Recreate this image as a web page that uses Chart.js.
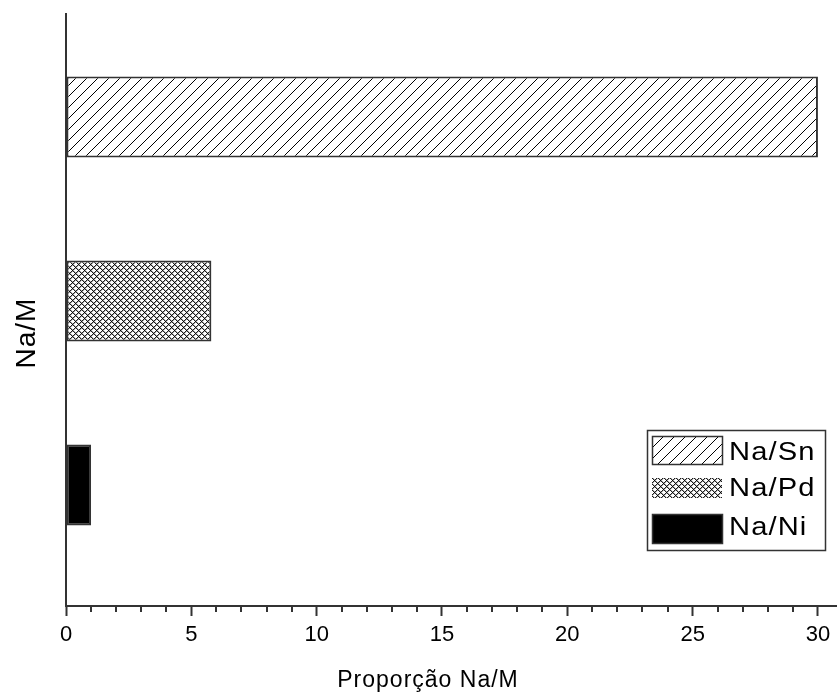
<!DOCTYPE html>
<html>
<head>
<meta charset="utf-8">
<script src="https://cdn.jsdelivr.net/npm/chart.js@4/dist/chart.umd.min.js"></script>
<style>
  html, body { margin: 0; padding: 0; background: #fff; }
  #wrap { width: 837px; height: 692px; }
</style>
</head>
<body>
<div id="wrap"><canvas id="c" width="837" height="692"></canvas></div>
<script>
// Ratio of sodium to each metal
const categories = ['Na/Sn', 'Na/Pd', 'Na/Ni'];
const ratios = [30, 5.8, 1];
const xTickValues = [0, 5, 10, 15, 20, 25, 30];
const xTitle = 'Proporção Na/M';
const yTitle = 'Na/M';

const FONT = "'Liberation Sans', Arial, sans-serif";
const AXIS = '#333333';

// bar slots on the vertical axis, top to bottom
const slotOf = i => categories.length - i;

// Fill patterns built as small pixel tiles
function tile(size, painter) {
  const c = document.createElement('canvas');
  c.width = size; c.height = size;
  const g = c.getContext('2d');
  const img = g.createImageData(size, size);
  for (let y = 0; y < size; y++) {
    for (let x = 0; x < size; x++) {
      const v = painter(x, y);
      const i = (y * size + x) * 4;
      img.data[i] = img.data[i + 1] = img.data[i + 2] = v;
      img.data[i + 3] = 255;
    }
  }
  g.putImageData(img, 0, 0);
  return g.createPattern(c, 'repeat');
}
// forward diagonal hatch
const hatch = tile(11, (x, y) => ((x + y) % 11 === 10 ? 0 : 255));
// fine cross hatch
const crossHatch = tile(6, (x, y) => {
  const a = (x + y) % 6;
  const b = (x - y + 6) % 6;
  if (a === 0 && b === 0) return 0;
  if (a === 0 || b === 0) return 30;
  if (a === 3 && b === 3) return 255;
  if (a === 1 || b === 1) return 170;
  return 255;
});
const fills = [hatch, crossHatch, '#000000'];

// minor ticks on the x axis, one per unit
const minorTicks = {
  id: 'minorTicks',
  afterDraw(chart) {
    const { ctx, scales: { x } } = chart;
    ctx.save();
    ctx.strokeStyle = AXIS;
    ctx.lineWidth = 2;
    for (let v = Math.ceil(x.min); v <= Math.floor(x.max); v++) {
      if (xTickValues.includes(v)) continue;
      const px = Math.round(x.getPixelForValue(v));
      ctx.beginPath();
      ctx.moveTo(px, x.top);
      ctx.lineTo(px, x.top + 6);
      ctx.stroke();
    }
    ctx.restore();
  }
};

// axis titles
const axisTitles = {
  id: 'axisTitles',
  afterDraw(chart) {
    const { ctx } = chart;
    ctx.save();
    ctx.fillStyle = '#000';
    ctx.textAlign = 'center';
    ctx.textBaseline = 'alphabetic';
    ctx.font = `23px ${FONT}`;
    ctx.letterSpacing = '1px';
    ctx.fillText(xTitle, 428, 687);
    ctx.translate(35, 333);
    ctx.rotate(-Math.PI / 2);
    ctx.font = `28px ${FONT}`;
    ctx.fillText(yTitle, 0, 0);
    ctx.restore();
  }
};

// boxed legend in the lower right
const boxLegend = {
  id: 'boxLegend',
  afterDraw(chart) {
    const { ctx } = chart;
    ctx.save();
    ctx.fillStyle = '#fff';
    ctx.fillRect(647, 430, 178, 120);
    ctx.strokeStyle = AXIS;
    ctx.lineWidth = 1.5;
    ctx.strokeRect(647.5, 430.5, 178, 120);
    const rows = [
      { y: 436, h: 28, border: true, base: 460 },
      { y: 478, h: 20, border: false, base: 496 },
      { y: 514, h: 29, border: true, base: 535 }
    ];
    categories.forEach((name, i) => {
      const r = rows[i];
      ctx.fillStyle = fills[i];
      ctx.fillRect(652, r.y, 70, r.h);
      if (r.border) {
        ctx.strokeStyle = AXIS;
        ctx.lineWidth = 1.5;
        ctx.strokeRect(652.5, r.y + 0.5, 70, r.h);
      }
      ctx.save();
      ctx.translate(729, r.base);
      ctx.scale(1.12, 1);
      ctx.fillStyle = '#000';
      ctx.font = `26px ${FONT}`;
      ctx.letterSpacing = '1px';
      ctx.textAlign = 'left';
      ctx.textBaseline = 'alphabetic';
      ctx.fillText(name, 0, 0);
      ctx.restore();
    });
    ctx.restore();
  }
};

new Chart(document.getElementById('c'), {
  type: 'bar',
  data: {
    datasets: [{
      label: yTitle,
      data: categories.map((c, i) => ({ x: ratios[i], y: slotOf(i) })),
      backgroundColor: fills,
      borderColor: AXIS,
      borderWidth: 2,
      borderSkipped: false,
      barPercentage: 0.44,
      categoryPercentage: 1
    }]
  },
  options: {
    indexAxis: 'y',
    responsive: false,
    animation: false,
    layout: { padding: { top: 14, left: 0, right: 0, bottom: 0 } },
    plugins: { legend: { display: false }, tooltip: { enabled: false } },
    scales: {
      x: {
        type: 'linear',
        min: 0,
        max: 30.76,
        afterBuildTicks: s => { s.ticks = xTickValues.map(v => ({ value: v })); },
        ticks: { color: '#000', font: { family: FONT, size: 22 }, padding: 6, maxRotation: 0 },
        grid: { drawOnChartArea: false, tickLength: 10, tickColor: AXIS, tickWidth: 2 },
        border: { color: AXIS, width: 2 },
        afterFit: s => { s.height = 86; }
      },
      y: {
        type: 'linear',
        offset: false,
        min: 0.343,
        max: 3.56,
        afterBuildTicks: s => { s.ticks = categories.map((c, i) => ({ value: slotOf(i) })); },
        ticks: { display: false },
        grid: { display: false },
        border: { color: AXIS, width: 2 },
        afterFit: s => { s.width = 66; }
      }
    }
  },
  plugins: [minorTicks, axisTitles, boxLegend]
});
</script>
</body>
</html>
